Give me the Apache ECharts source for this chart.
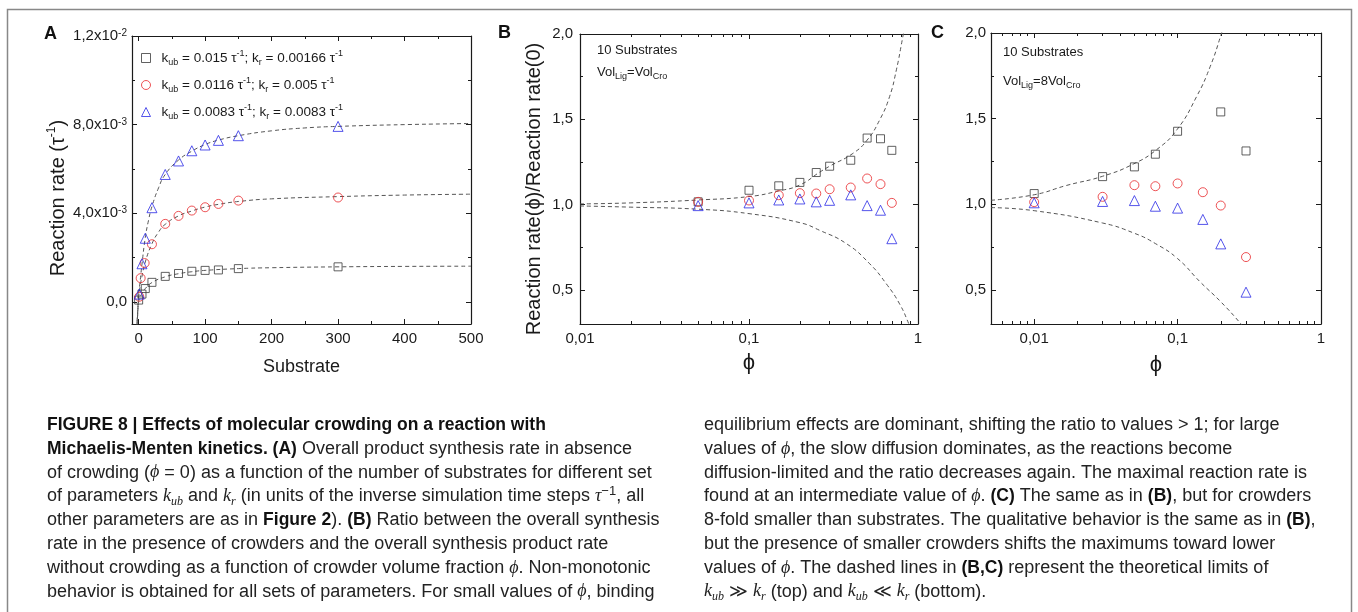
<!DOCTYPE html>
<html><head><meta charset="utf-8">
<script src="https://cdn.jsdelivr.net/npm/echarts@6/dist/echarts.min.js"></script>
<style>html,body{margin:0;padding:0;background:#fff;}#c{width:1358px;height:612px;}</style>
</head><body><div id="c"></div>
<script>
// ---------------- Panel A data ----------------
const squaresAx = [0, 5, 10, 20, 40, 60, 80, 100, 120, 150, 300];
const squaresAy = [0.08e-3, 0.35e-3, 0.6e-3, 0.88e-3, 1.15e-3, 1.28e-3, 1.38e-3, 1.42e-3, 1.44e-3, 1.5e-3, 1.58e-3];
const circlesAx = [1, 3, 9, 20, 40, 60, 80, 100, 120, 150, 300];
const circlesAy = [0.23e-3, 1.07e-3, 1.75e-3, 2.6e-3, 3.52e-3, 3.88e-3, 4.12e-3, 4.27e-3, 4.42e-3, 4.57e-3, 4.71e-3];
const trianglesAx = [1, 5, 10, 20, 40, 60, 80, 100, 120, 150, 300];
const trianglesAy = [0.35e-3, 1.72e-3, 2.87e-3, 4.25e-3, 5.75e-3, 6.36e-3, 6.82e-3, 7.08e-3, 7.29e-3, 7.5e-3, 7.92e-3];
// dashed fit curves [x, y]
const fitSquaresA = [[-3,-1.3e-3],[-1.5,-0.6e-3],[0,0.0],[2.5,0.22e-3],[5,0.38e-3],[10,0.6e-3],[20,0.87e-3],[40,1.13e-3],[60,1.27e-3],[80,1.36e-3],[100,1.42e-3],[150,1.5e-3],[200,1.54e-3],[300,1.58e-3],[400,1.6e-3],[500,1.61e-3]];
const fitCirclesA = [[-3,-1.4e-3],[-1.5,-0.55e-3],[0,0.2e-3],[2.5,0.75e-3],[5,1.15e-3],[10,1.8e-3],[20,2.62e-3],[30,3.15e-3],[40,3.5e-3],[60,3.88e-3],[80,4.1e-3],[100,4.28e-3],[120,4.4e-3],[150,4.53e-3],[200,4.65e-3],[300,4.75e-3],[400,4.82e-3],[500,4.86e-3]];
const fitTrianglesA = [[-3,-1.2e-3],[-1.5,-0.45e-3],[0,0.3e-3],[2.5,1.0e-3],[5,1.7e-3],[10,2.9e-3],[15,3.7e-3],[20,4.3e-3],[30,5.15e-3],[40,5.75e-3],[60,6.4e-3],[80,6.8e-3],[100,7.1e-3],[120,7.3e-3],[150,7.5e-3],[200,7.72e-3],[250,7.85e-3],[300,7.92e-3],[400,8.0e-3],[500,8.05e-3]];
const legendNamesA = ['k015', 'k0116', 'k0083'];
const legendLabelsA = [
  '{n|k}{sub|ub}{n| = 0.015 τ}{sup|-1}{n|; k}{sub|r}{n| = 0.00166 τ}{sup|-1}',
  '{n|k}{sub|ub}{n| = 0.0116 τ}{sup|-1}{n|; k}{sub|r}{n| = 0.005 τ}{sup|-1}',
  '{n|k}{sub|ub}{n| = 0.0083 τ}{sup|-1}{n|; k}{sub|r}{n| = 0.0083 τ}{sup|-1}'
];
const xTicksA = [0, 100, 200, 300, 400, 500];
const xMinorA = [50, 150, 250, 350, 450];
const yTicksA = [0, 0.004, 0.008, 0.012];
const yTickLabelsA = ['0,0', '4,0x10{sup|-3}', '8,0x10{sup|-3}', '1,2x10{sup|-2}'];
const yMinorA = [0.002, 0.006, 0.010];

// ---------------- Panel B data ----------------
const phiB = [0.05, 0.1, 0.15, 0.2, 0.25, 0.3, 0.4, 0.5, 0.6, 0.7];
const squaresB = [1.016, 1.084, 1.11, 1.13, 1.188, 1.225, 1.26, 1.39, 1.386, 1.318];
const circlesB = [1.016, 1.024, 1.055, 1.067, 1.065, 1.09, 1.10, 1.153, 1.12, 1.01];
const trianglesB = [0.994, 1.01, 1.027, 1.033, 1.016, 1.025, 1.057, 0.994, 0.967, 0.80];
const upperB = [[0.01,1.004],[0.02,1.01],[0.05,1.027],[0.1,1.047],[0.15,1.08],[0.2,1.115],[0.262,1.19],[0.3,1.225],[0.412,1.30],[0.5,1.378],[0.593,1.496],[0.679,1.633],[0.745,1.79],[0.807,1.966],[0.84,2.06]];
const lowerB = [[0.01,0.992],[0.02,0.985],[0.05,0.973],[0.1,0.947],[0.2,0.894],[0.262,0.849],[0.377,0.771],[0.518,0.653],[0.65,0.535],[0.778,0.418],[0.883,0.30],[0.92,0.25]];

// ---------------- Panel C data ----------------
const phiCsq = [0.01, 0.03, 0.05, 0.07, 0.1, 0.2, 0.3];
const squaresC = [1.062, 1.161, 1.218, 1.292, 1.426, 1.539, 1.311];
const phiC = [0.01, 0.03, 0.05, 0.07, 0.1, 0.15, 0.2, 0.3];
const circlesC = [1.012, 1.043, 1.111, 1.105, 1.121, 1.07, 0.992, 0.691];
const trianglesC = [1.008, 1.016, 1.021, 0.988, 0.977, 0.911, 0.768, 0.486];
const upperC = [[0.005,1.023],[0.01,1.055],[0.0169,1.11],[0.03,1.163],[0.0493,1.235],[0.0718,1.32],[0.099,1.435],[0.136,1.63],[0.169,1.805],[0.201,1.99],[0.21,2.05]];
const lowerC = [[0.005,0.98],[0.01,0.962],[0.03,0.89],[0.05,0.83],[0.07,0.77],[0.1,0.682],[0.144,0.545],[0.2,0.43],[0.277,0.30],[0.3,0.26]];

// ---------------- log axes ticks ----------------
const xTicksLog = [0.01, 0.1, 1];
const xTickLabelsLog = ['0,01', '0,1', '1'];
const xMinorB = [0.02,0.03,0.04,0.05,0.06,0.07,0.08,0.09,0.2,0.3,0.4,0.5,0.6,0.7,0.8,0.9];
const xMinorC = [0.006,0.007,0.008,0.009,0.02,0.03,0.04,0.05,0.06,0.07,0.08,0.09,0.2,0.3,0.4,0.5,0.6,0.7,0.8,0.9];
const yTicksR = [0.5, 1.0, 1.5, 2.0];
const yTickLabelsR = ['0,5', '1,0', '1,5', '2,0'];
const yMinorR = [0.75, 1.25, 1.75];

// ---------------- caption ----------------
const captionLeft = [
  '{b|FIGURE 8 | Effects of molecular crowding on a reaction with}',
  '{b|Michaelis-Menten kinetics. (A)}{r| Overall product synthesis rate in absence}',
  '{r|of crowding (}{i|ϕ}{r| = 0) as a function of the number of substrates for different set}',
  '{r|of parameters }{i|k}{isub|ub}{r| and }{i|k}{isub|r}{r| (in units of the inverse simulation time steps }{i|τ}{sup|−1}{r|, all}',
  '{r|other parameters are as in }{b|Figure 2}{r|). }{b|(B)}{r| Ratio between the overall synthesis}',
  '{r|rate in the presence of crowders and the overall synthesis product rate}',
  '{r|without crowding as a function of crowder volume fraction }{i|ϕ}{r|. Non-monotonic}',
  '{r|behavior is obtained for all sets of parameters. For small values of }{i|ϕ}{r|, binding}'
];
const captionRight = [
  '{r|equilibrium effects are dominant, shifting the ratio to values > 1; for large}',
  '{r|values of }{i|ϕ}{r|, the slow diffusion dominates, as the reactions become}',
  '{r|diffusion-limited and the ratio decreases again. The maximal reaction rate is}',
  '{r|found at an intermediate value of }{i|ϕ}{r|. }{b|(C)}{r| The same as in }{b|(B)}{r|, but for crowders}',
  '{r|8-fold smaller than substrates. The qualitative behavior is the same as in }{b|(B)}{r|,}',
  '{r|but the presence of smaller crowders shifts the maximums toward lower}',
  '{r|values of }{i|ϕ}{r|. The dashed lines in }{b|(B,C)}{r| represent the theoretical limits of}',
  '{i|k}{isub|ub}{r| ≫ }{i|k}{isub|r}{r| (top) and }{i|k}{isub|ub}{r| ≪ }{i|k}{isub|r}{r| (bottom).}'
];

// ================= build =================
const FONT = 'Liberation Sans';
const AX = '#1a1a1a';
const C_SQ = '#3a3a3a', C_CI = '#e8282c', C_TR = '#2b2be6';

function buildAxes(dim, grid, type, min, max, major, minor, fmt, margin, rich, nameCfg) {
  const pos = dim === 'x' ? ['bottom', 'top'] : ['left', 'right'];
  function base(p) {
    const o = {gridIndex: grid, type: type, min: min, max: max, position: p,
      splitLine: {show: false}, splitArea: {show: false}};
    if (type === 'log') o.logBase = 10;
    return o;
  }
  const tick = {color: AX, width: 1};
  const main = Object.assign(base(pos[0]), {
    axisLine: {show: true, onZero: false, lineStyle: {color: AX, width: 1.2}},
    axisTick: {show: true, inside: true, length: 5, customValues: major, lineStyle: tick},
    axisLabel: {show: true, customValues: major, formatter: fmt, margin: margin, color: '#1a1a1a',
      fontFamily: FONT, fontSize: 15, rich: rich || {}, hideOverlap: false}
  }, nameCfg || {});
  const mainMinor = Object.assign(base(pos[0]), {
    axisLine: {show: false, onZero: false},
    axisTick: {show: true, inside: true, length: 3, customValues: minor, lineStyle: tick},
    axisLabel: {show: false}
  });
  const mirror = Object.assign(base(pos[1]), {
    axisLine: {show: true, onZero: false, lineStyle: {color: AX, width: 1.2}},
    axisTick: {show: true, inside: true, length: 5, customValues: major, lineStyle: tick},
    axisLabel: {show: false}
  });
  const mirrorMinor = Object.assign(base(pos[1]), {
    axisLine: {show: false, onZero: false},
    axisTick: {show: true, inside: true, length: 3, customValues: minor, lineStyle: tick},
    axisLabel: {show: false}
  });
  return [main, mainMinor, mirror, mirrorMinor];
}

const supRich = {
  sup: {fontSize: 10, fontFamily: FONT, color: '#1a1a1a', verticalAlign: 'top', lineHeight: 11},
  n: {fontSize: 15, fontFamily: FONT, color: '#1a1a1a', lineHeight: 20}
};
function fmtA(v) {
  const i = yTicksA.findIndex(t => Math.abs(t - v) < 1e-9);
  return i < 0 ? '' : yTickLabelsA[i];
}
function fmtLog(v) {
  const i = xTicksLog.findIndex(t => Math.abs(t - v) / t < 1e-6);
  return i < 0 ? '' : xTickLabelsLog[i];
}
function fmtR(v) {
  const i = yTicksR.findIndex(t => Math.abs(t - v) < 1e-9);
  return i < 0 ? '' : yTickLabelsR[i];
}
const nameFont = {fontFamily: FONT, fontSize: 20, color: '#1a1a1a'};

const xAxes = [].concat(
  buildAxes('x', 0, 'value', -10, 500, xTicksA, xMinorA, v => String(v), 7, null,
    {name: 'Substrate', nameLocation: 'middle', nameGap: 34, nameTextStyle: Object.assign({}, nameFont, {fontSize: 18})}),
  buildAxes('x', 1, 'log', 0.01, 1, xTicksLog, xMinorB, fmtLog, 7, null,
    {name: 'ϕ', nameLocation: 'middle', nameGap: 28, nameTextStyle: Object.assign({}, nameFont, {fontSize: 22})}),
  buildAxes('x', 2, 'log', 0.005, 1, xTicksLog, xMinorC, fmtLog, 7, null,
    {name: 'ϕ', nameLocation: 'middle', nameGap: 30, nameTextStyle: Object.assign({}, nameFont, {fontSize: 22})})
);
const yAxes = [].concat(
  buildAxes('y', 0, 'value', -0.001, 0.012, yTicksA, yMinorA, fmtA, 5, supRich,
    {name: '{n|Reaction rate (τ}{sup|-1}{n|)}', nameLocation: 'middle', nameGap: 62,
     nameTextStyle: Object.assign({}, nameFont, {padding: [0, 36, 0, 0], rich: {
        n: {fontSize: 20, fontFamily: FONT, color: '#1a1a1a', lineHeight: 24},
        sup: {fontSize: 12, fontFamily: FONT, color: '#1a1a1a', verticalAlign: 'top', lineHeight: 13}}})}),
  buildAxes('y', 1, 'value', 0.3, 2.0, yTicksR, yMinorR, fmtR, 7, null,
    {name: 'Reaction rate(ϕ)/Reaction rate(0)', nameLocation: 'middle', nameGap: 36,
     nameTextStyle: Object.assign({}, nameFont, {padding: [0, 20, 0, 0]})}),
  buildAxes('y', 2, 'value', 0.3, 2.0, yTicksR, yMinorR, fmtR, 5, null, null)
);

function scatter(name, xs, ys, symbol, size, color, ai) {
  return {type: 'scatter', name: name, xAxisIndex: ai, yAxisIndex: ai, symbol: symbol, symbolSize: size,
    data: xs.map((x, i) => [x, ys[i]]),
    itemStyle: {color: 'rgba(0,0,0,0)', borderColor: color, borderWidth: 1},
    emphasis: {disabled: true}, z: 4, clip: true};
}
function fit(name, pts, ai) {
  return {type: 'line', name: name, xAxisIndex: ai, yAxisIndex: ai, data: pts, showSymbol: false, symbol: 'none',
    smooth: 0.5, clip: true,
    lineStyle: {color: '#555', width: 1, type: [4, 3]}, emphasis: {disabled: true}, z: 2, silent: true};
}

const series = [
  fit('fa1', fitSquaresA, 0), fit('fa2', fitCirclesA, 0), fit('fa3', fitTrianglesA, 0),
  scatter(legendNamesA[0], squaresAx, squaresAy, 'rect', 8, C_SQ, 0),
  scatter(legendNamesA[1], circlesAx, circlesAy, 'circle', 9, C_CI, 0),
  scatter(legendNamesA[2], trianglesAx, trianglesAy, 'triangle', 10, C_TR, 0),
  fit('fb1', upperB, 4), fit('fb2', lowerB, 4),
  scatter('sB', phiB, squaresB, 'rect', 8, C_SQ, 4),
  scatter('cB', phiB, circlesB, 'circle', 9, C_CI, 4),
  scatter('tB', phiB, trianglesB, 'triangle', 10, C_TR, 4),
  fit('fc1', upperC, 8), fit('fc2', lowerC, 8),
  scatter('sC', phiCsq, squaresC, 'rect', 8, C_SQ, 8),
  scatter('cC', phiC, circlesC, 'circle', 9, C_CI, 8),
  scatter('tC', phiC, trianglesC, 'triangle', 10, C_TR, 8)
];

const capRich = {
  r: {fontFamily: FONT, fontSize: 18, fill: '#222', lineHeight: 22},
  b: {fontFamily: FONT, fontSize: 17.5, fontWeight: 'bold', fill: '#111', lineHeight: 22},
  i: {fontFamily: 'Liberation Serif', fontSize: 18, fontStyle: 'italic', fill: '#222', lineHeight: 22},
  isub: {fontFamily: 'Liberation Serif', fontSize: 12, fontStyle: 'italic', fill: '#222', verticalAlign: 'bottom', lineHeight: 13},
  sup: {fontFamily: FONT, fontSize: 13, fill: '#222', verticalAlign: 'top', lineHeight: 13}
};
const annRich = {
  n: {fontFamily: FONT, fontSize: 13, fill: '#1a1a1a', lineHeight: 18},
  sub: {fontFamily: FONT, fontSize: 9, fill: '#1a1a1a', verticalAlign: 'bottom', lineHeight: 10}
};

const graphic = [
  {type: 'polyline', silent: true, shape: {points: [[7.5, 700], [7.5, 9.5], [1351.5, 9.5], [1351.5, 700]]},
   style: {stroke: '#888', lineWidth: 1.5, fill: null}},
  {type: 'text', x: 44, y: 34, style: {text: 'A', fontFamily: FONT, fontSize: 18, fontWeight: 'bold', fill: '#111', verticalAlign: 'middle'}},
  {type: 'text', x: 498, y: 33, style: {text: 'B', fontFamily: FONT, fontSize: 18, fontWeight: 'bold', fill: '#111', verticalAlign: 'middle'}},
  {type: 'text', x: 931, y: 33, style: {text: 'C', fontFamily: FONT, fontSize: 18, fontWeight: 'bold', fill: '#111', verticalAlign: 'middle'}},
  {type: 'text', x: 597, y: 50, style: {text: '{n|10 Substrates}', rich: annRich, verticalAlign: 'middle'}},
  {type: 'text', x: 597, y: 72, style: {text: '{n|Vol}{sub|Lig}{n|=Vol}{sub|Cro}', rich: annRich, verticalAlign: 'middle'}},
  {type: 'text', x: 1003, y: 52, style: {text: '{n|10 Substrates}', rich: annRich, verticalAlign: 'middle'}},
  {type: 'text', x: 1003, y: 81, style: {text: '{n|Vol}{sub|Lig}{n|=8Vol}{sub|Cro}', rich: annRich, verticalAlign: 'middle'}}
];
captionLeft.forEach((t, i) => graphic.push({type: 'text', x: 47, y: 425 + i * 23.8,
  style: {text: t, rich: capRich, verticalAlign: 'middle'}}));
captionRight.forEach((t, i) => graphic.push({type: 'text', x: 704, y: 425 + i * 23.8,
  style: {text: t, rich: capRich, verticalAlign: 'middle'}}));

const legendRich = {
  n: {fontFamily: FONT, fontSize: 13.5, color: '#1a1a1a', lineHeight: 18},
  sub: {fontFamily: FONT, fontSize: 9, color: '#1a1a1a', verticalAlign: 'bottom', lineHeight: 10},
  sup: {fontFamily: FONT, fontSize: 9, color: '#1a1a1a', verticalAlign: 'top', lineHeight: 10}
};

const option = {
  animation: false,
  backgroundColor: '#fff',
  grid: [
    {left: 132, top: 36, width: 339, height: 288},
    {left: 580, top: 34, width: 338, height: 290},
    {left: 991, top: 33, width: 330, height: 291}
  ],
  xAxis: xAxes,
  yAxis: yAxes,
  legend: {
    data: legendNamesA, left: 136, top: 44, orient: 'vertical', itemGap: 9,
    itemWidth: 9, itemHeight: 9, selectedMode: false,
    itemStyle: {borderWidth: 1},
    formatter: name => legendLabelsA[legendNamesA.indexOf(name)],
    textStyle: {rich: legendRich, padding: [0, 0, 0, 6]}
  },
  series: series,
  graphic: graphic
};
const chart = echarts.init(document.getElementById('c'));
chart.setOption(option);
</script>
</body></html>
